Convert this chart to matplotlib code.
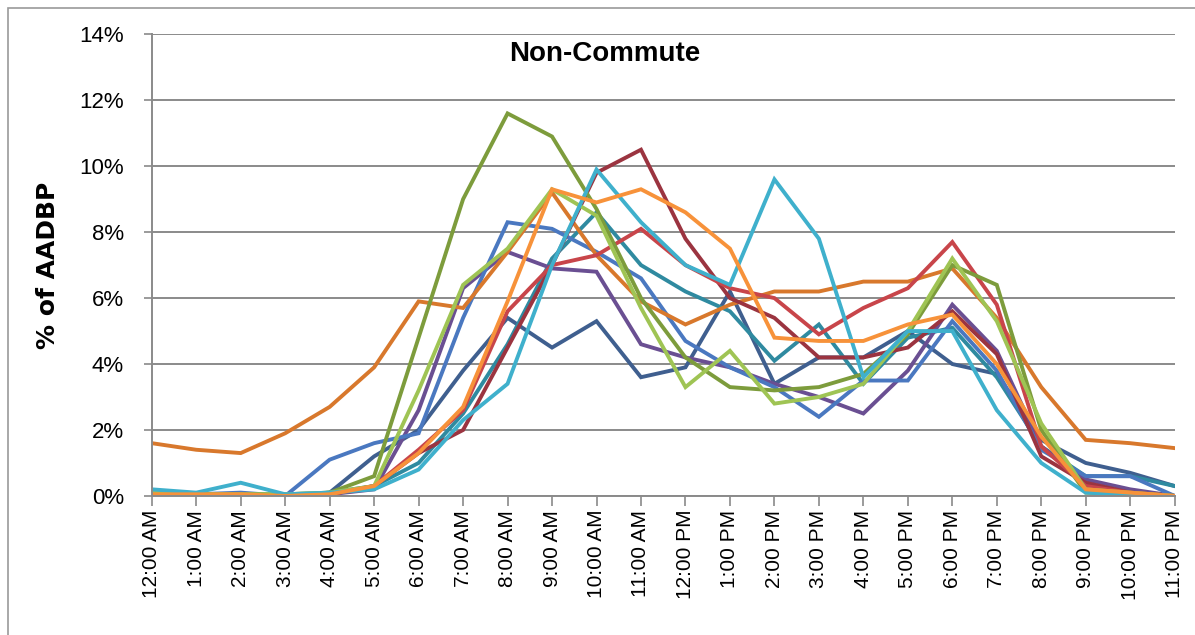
import matplotlib.pyplot as plt
from matplotlib.patches import Rectangle
from matplotlib.ticker import FuncFormatter

hours = ["12:00 AM", "1:00 AM", "2:00 AM", "3:00 AM", "4:00 AM", "5:00 AM",
         "6:00 AM", "7:00 AM", "8:00 AM", "9:00 AM", "10:00 AM", "11:00 AM",
         "12:00 PM", "1:00 PM", "2:00 PM", "3:00 PM", "4:00 PM", "5:00 PM",
         "6:00 PM", "7:00 PM", "8:00 PM", "9:00 PM", "10:00 PM", "11:00 PM"]

# % of AADBP per hour, one list per count site
site_dark_orange = [1.6, 1.4, 1.3, 1.9, 2.7, 3.9, 5.9, 5.7, 7.4, 9.2, 7.3, 5.9,
                    5.2, 5.8, 6.2, 6.2, 6.5, 6.5, 6.9, 5.4, 3.3, 1.7, 1.6, 1.45]
site_olive = [0.1, 0.05, 0.05, 0.05, 0.1, 0.6, 4.8, 9.0, 11.6, 10.9, 8.7, 6.0,
              4.2, 3.3, 3.2, 3.3, 3.7, 4.9, 7.0, 6.4, 2.0, 0.1, 0.05, 0.0]
site_light_green = [0.15, 0.05, 0.05, 0.05, 0.1, 0.3, 3.2, 6.4, 7.5, 9.3, 8.5, 5.7,
                    3.3, 4.4, 2.8, 3.0, 3.4, 5.0, 7.2, 5.3, 2.2, 0.2, 0.1, 0.0]
site_blue = [0.05, 0.05, 0.1, 0.0, 1.1, 1.6, 1.9, 5.4, 8.3, 8.1, 7.4, 6.6,
             4.7, 3.9, 3.3, 2.4, 3.5, 3.5, 5.3, 3.8, 1.4, 0.6, 0.6, 0.0]
site_purple = [0.0, 0.0, 0.0, 0.0, 0.05, 0.2, 2.6, 6.3, 7.4, 6.9, 6.8, 4.6,
               4.2, 3.9, 3.4, 3.0, 2.5, 3.8, 5.8, 4.4, 1.5, 0.5, 0.2, 0.0]
site_slate = [0.1, 0.05, 0.05, 0.0, 0.1, 1.2, 2.0, 3.8, 5.4, 4.5, 5.3, 3.6,
              3.9, 6.2, 3.4, 4.2, 4.2, 5.0, 4.0, 3.7, 1.7, 1.0, 0.7, 0.3]
site_teal = [0.1, 0.05, 0.05, 0.0, 0.1, 0.3, 1.0, 2.5, 4.6, 7.2, 8.6, 7.0,
             6.2, 5.6, 4.1, 5.2, 3.4, 4.8, 5.1, 3.6, 1.5, 0.6, 0.6, 0.3]
site_cyan = [0.2, 0.1, 0.4, 0.05, 0.1, 0.2, 0.8, 2.3, 3.4, 7.0, 9.9, 8.3,
             7.0, 6.4, 9.6, 7.8, 3.6, 5.0, 5.0, 2.6, 1.0, 0.1, 0.05, 0.0]
site_maroon = [0.0, 0.0, 0.0, 0.0, 0.05, 0.3, 1.3, 2.0, 4.5, 7.0, 9.8, 10.5,
               7.8, 6.0, 5.4, 4.2, 4.2, 4.5, 5.6, 4.3, 1.2, 0.4, 0.1, 0.0]
site_red = [0.0, 0.0, 0.0, 0.0, 0.05, 0.3, 1.4, 2.6, 5.6, 7.0, 7.3, 8.1,
            7.0, 6.3, 6.0, 4.9, 5.7, 6.3, 7.7, 5.8, 1.5, 0.3, 0.1, 0.0]
site_orange = [0.05, 0.05, 0.05, 0.0, 0.05, 0.3, 1.3, 2.7, 5.9, 9.3, 8.9, 9.3,
               8.6, 7.5, 4.8, 4.7, 4.7, 5.2, 5.5, 4.0, 1.8, 0.2, 0.1, 0.0]

series = [
    (site_slate, "#3f5f8f"),
    (site_teal, "#2f8aa0"),
    (site_purple, "#6a4f92"),
    (site_blue, "#4a78c0"),
    (site_dark_orange, "#d8782c"),
    (site_maroon, "#9b3440"),
    (site_red, "#c8454a"),
    (site_olive, "#7d9c3c"),
    (site_light_green, "#9fc454"),
    (site_cyan, "#3fb0cc"),
    (site_orange, "#f7923a"),
]

fig = plt.figure(figsize=(11.95, 6.35), dpi=100)
ax = fig.add_axes([0.127, 0.219, 0.856, 0.727])

x = list(range(len(hours)))
for vals, col in series:
    ax.plot(x, vals, color=col, linewidth=2.8, solid_joinstyle="miter")

ax.set_xlim(0, len(hours) - 1)
ax.set_ylim(0, 14)
ax.set_yticks(range(0, 15, 2))
ax.yaxis.set_major_formatter(FuncFormatter(lambda v, p: "%d%%" % v))
ax.set_xticks(x)
ax.set_xticklabels(hours, rotation=90, fontsize=15, family="Liberation Sans")
for lab in ax.get_yticklabels():
    lab.set_fontsize(16)
    lab.set_family("Liberation Sans")

ax.grid(axis="y", color="#8a8a8a", linewidth=1.4)
ax.set_axisbelow(True)
for s in ["top", "right"]:
    ax.spines[s].set_visible(False)
ax.spines["left"].set_color("#8a8a8a")
ax.spines["bottom"].set_color("#8a8a8a")
ax.spines["left"].set_linewidth(1.4)
ax.spines["bottom"].set_linewidth(1.4)
ax.tick_params(axis="x", color="#8a8a8a", length=7, width=1.2, pad=3)
ax.tick_params(axis="y", color="#8a8a8a", length=6, width=1.2, pad=14)

ax.set_ylabel("% of AADBP", fontsize=18, fontweight="bold", labelpad=14,
              family="DejaVu Sans")
ax.text(0.443, 0.985, "Non-Commute", transform=ax.transAxes, ha="center",
        va="top", fontsize=20, fontweight="bold", family="Liberation Sans")

fig.patches.append(Rectangle((0.007, -0.05), 1.2, 1.037, transform=fig.transFigure,
                             fill=False, edgecolor="#9a9a9a", linewidth=1.2))

fig.savefig("out.png", dpi=100)
